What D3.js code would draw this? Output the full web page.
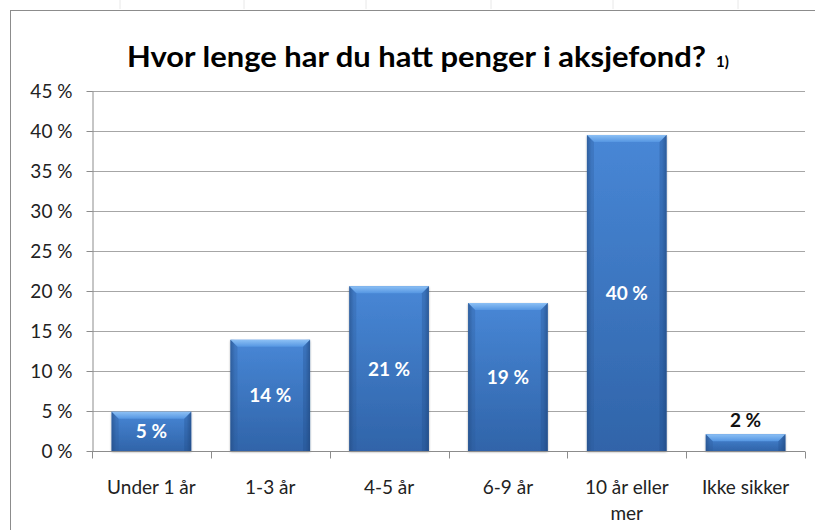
<!DOCTYPE html>
<html><head><meta charset="utf-8">
<script src="https://cdn.jsdelivr.net/npm/d3@7"></script>
<style>html,body{margin:0;padding:0;background:#fff;}svg{display:block;}</style>
</head><body>
<script>
const categories = ["Under 1 år", "1-3 år", "4-5 år", "6-9 år", "10 år eller mer", "Ikke sikker"];
const categoryLines = [["Under 1 år"], ["1-3 år"], ["4-5 år"], ["6-9 år"], ["10 år eller", "mer"], ["Ikke sikker"]];
const values = [4.9, 13.9, 20.6, 18.5, 39.5, 2.1];
const yTicks = [0, 5, 10, 15, 20, 25, 30, 35, 40, 45];
const title = "Hvor lenge har du hatt penger i aksjefond?";
const titleNote = "1)";

const W = 815, H = 530;
const margin = {left: 92, right: 10, top: 91, bottom: 79};
const font = "Lato, 'Open Sans', sans-serif";

const svg = d3.select("body").append("svg").attr("width", W).attr("height", H);

// spreadsheet background marks
const bg = svg.append("g");
[120, 244, 366, 491, 613, 738].forEach(x => bg.append("line").attr("x1", x).attr("x2", x).attr("y1", 0).attr("y2", 9).attr("stroke", "#e8e8e8"));
// chart frame
svg.append("rect").attr("x", 10.5).attr("y", 10.5).attr("width", W).attr("height", H)
  .attr("fill", "#fff").attr("stroke", "#8c8c8c").attr("stroke-width", 1);

const x = d3.scaleBand().domain(categories).range([margin.left, W - margin.right]).paddingInner(0.33).paddingOuter(0.165);
const xb = d3.scaleBand().domain(categories).range([margin.left, W - margin.right]).padding(0);
const y = d3.scaleLinear().domain([0, 45]).range([H - margin.bottom, margin.top]);

// defs
const defs = svg.append("defs");
const g1 = defs.append("linearGradient").attr("id", "face").attr("x1", 0).attr("y1", 0).attr("x2", 0).attr("y2", 1);
g1.append("stop").attr("offset", "0%").attr("stop-color", "#4887d6");
g1.append("stop").attr("offset", "100%").attr("stop-color", "#3064a9");
const g2 = defs.append("linearGradient").attr("id", "side").attr("x1", 0).attr("y1", 0).attr("x2", 1).attr("y2", 0);
g2.append("stop").attr("offset", "0%").attr("stop-color", "#1d3f70").attr("stop-opacity", 0.5);
g2.append("stop").attr("offset", "6%").attr("stop-color", "#1d3f70").attr("stop-opacity", 0);
g2.append("stop").attr("offset", "94%").attr("stop-color", "#1d3f70").attr("stop-opacity", 0);
g2.append("stop").attr("offset", "100%").attr("stop-color", "#1d3f70").attr("stop-opacity", 0.5);
const g3 = defs.append("linearGradient").attr("id", "bevel").attr("x1", 0).attr("y1", 0).attr("x2", 0).attr("y2", 1);
g3.append("stop").attr("offset", "0%").attr("stop-color", "#8cc0f5");
g3.append("stop").attr("offset", "100%").attr("stop-color", "#5596e2");
const flt = defs.append("filter").attr("id", "shadow").attr("x", "-10%").attr("y", "-10%").attr("width", "120%").attr("height", "120%");
flt.append("feDropShadow").attr("dx", 0).attr("dy", 1).attr("stdDeviation", 1.2).attr("flood-color", "#000").attr("flood-opacity", 0.35);

// gridlines
svg.append("g").selectAll("line").data(yTicks.filter(d => d > 0)).join("line")
  .attr("x1", margin.left).attr("x2", W - margin.right)
  .attr("y1", d => Math.round(y(d)) + 0.5).attr("y2", d => Math.round(y(d)) + 0.5)
  .attr("stroke", "#a6a6a6").attr("stroke-width", 1);

// y axis
const yAxis = svg.append("g").attr("transform", `translate(${margin.left + 0.5},0)`)
  .call(d3.axisLeft(y).tickValues(yTicks).tickFormat(d => d + " %").tickSize(6).tickSizeOuter(0));
yAxis.select(".domain").attr("stroke", "#8c8c8c");
yAxis.selectAll(".tick line").attr("stroke", "#8c8c8c");
yAxis.selectAll(".tick text").attr("font-family", font).attr("font-size", 19).attr("fill", "#222").attr("x", -20).attr("dy", "0.36em");

// bars
const bars = svg.append("g").selectAll("g").data(values).join("g");
bars.each(function(v, i) {
  const g = d3.select(this);
  const bx = x(categories[i]), bw = x.bandwidth();
  const top = y(v), bot = y(0);
  const h = bot - top;
  g.append("rect").attr("x", bx).attr("y", top).attr("width", bw).attr("height", h).attr("fill", "url(#face)").attr("filter", "url(#shadow)");
  g.append("rect").attr("x", bx).attr("y", top).attr("width", bw).attr("height", h).attr("fill", "url(#side)");
  const bv = Math.min(7, h / 2);
  g.append("path").attr("d", `M${bx},${top}L${bx + bw},${top}L${bx + bw - 7},${top + bv}L${bx + 7},${top + bv}Z`).attr("fill", "url(#bevel)");
  g.append("path").attr("d", `M${bx},${top}L${bx + 7},${top + bv}L${bx + 7},${bot}L${bx},${bot}Z`).attr("fill", "#2a5a99").attr("opacity", 0.3);
  g.append("path").attr("d", `M${bx + bw},${top}L${bx + bw - 7},${top + bv}L${bx + bw - 7},${bot}L${bx + bw},${bot}Z`).attr("fill", "#1f4a85").attr("opacity", 0.3);
});

// x axis
const xAxisY = Math.round(y(0)) + 0.5;
svg.append("line").attr("x1", margin.left).attr("x2", W - margin.right).attr("y1", xAxisY).attr("y2", xAxisY).attr("stroke", "#8c8c8c");
const bounds = categories.map(c => xb(c)).concat([xb(categories[categories.length - 1]) + xb.bandwidth()]);
svg.append("g").selectAll("line").data(bounds).join("line")
  .attr("x1", d => Math.round(d) + 0.5).attr("x2", d => Math.round(d) + 0.5)
  .attr("y1", xAxisY).attr("y2", xAxisY + 7).attr("stroke", "#8c8c8c");
const xl = svg.append("g").selectAll("text").data(categoryLines).join("text")
  .attr("x", (d, i) => xb(categories[i]) + xb.bandwidth() / 2)
  .attr("y", 494).attr("text-anchor", "middle")
  .attr("font-family", font).attr("font-size", 19).attr("fill", "#222");
xl.each(function(lines) {
  d3.select(this).selectAll("tspan").data(lines).join("tspan")
    .attr("x", d3.select(this).attr("x")).attr("dy", (d, j) => j === 0 ? 0 : 26).text(d => d);
});

// data labels
svg.append("g").selectAll("text").data(values).join("text")
  .attr("x", (d, i) => x(categories[i]) + x.bandwidth() / 2)
  .attr("y", d => d < 4 ? y(d) - 7 : (y(d) + y(0)) / 2 + 7)
  .attr("text-anchor", "middle")
  .attr("font-family", font).attr("font-weight", "bold").attr("font-size", 19)
  .attr("fill", d => d < 4 ? "#111" : "#fff")
  .text(d => Math.round(d) + " %");

// title
svg.append("text").attr("x", 127).attr("y", 67)
  .attr("font-family", font).attr("font-weight", "bold").attr("font-size", 28).attr("fill", "#000")
  .attr("textLength", 579).attr("lengthAdjust", "spacingAndGlyphs").text(title);
svg.append("text").attr("x", 716).attr("y", 67).attr("font-family", font).attr("font-weight", "bold").attr("font-size", 15).text(titleNote);
</script>
</body></html>
